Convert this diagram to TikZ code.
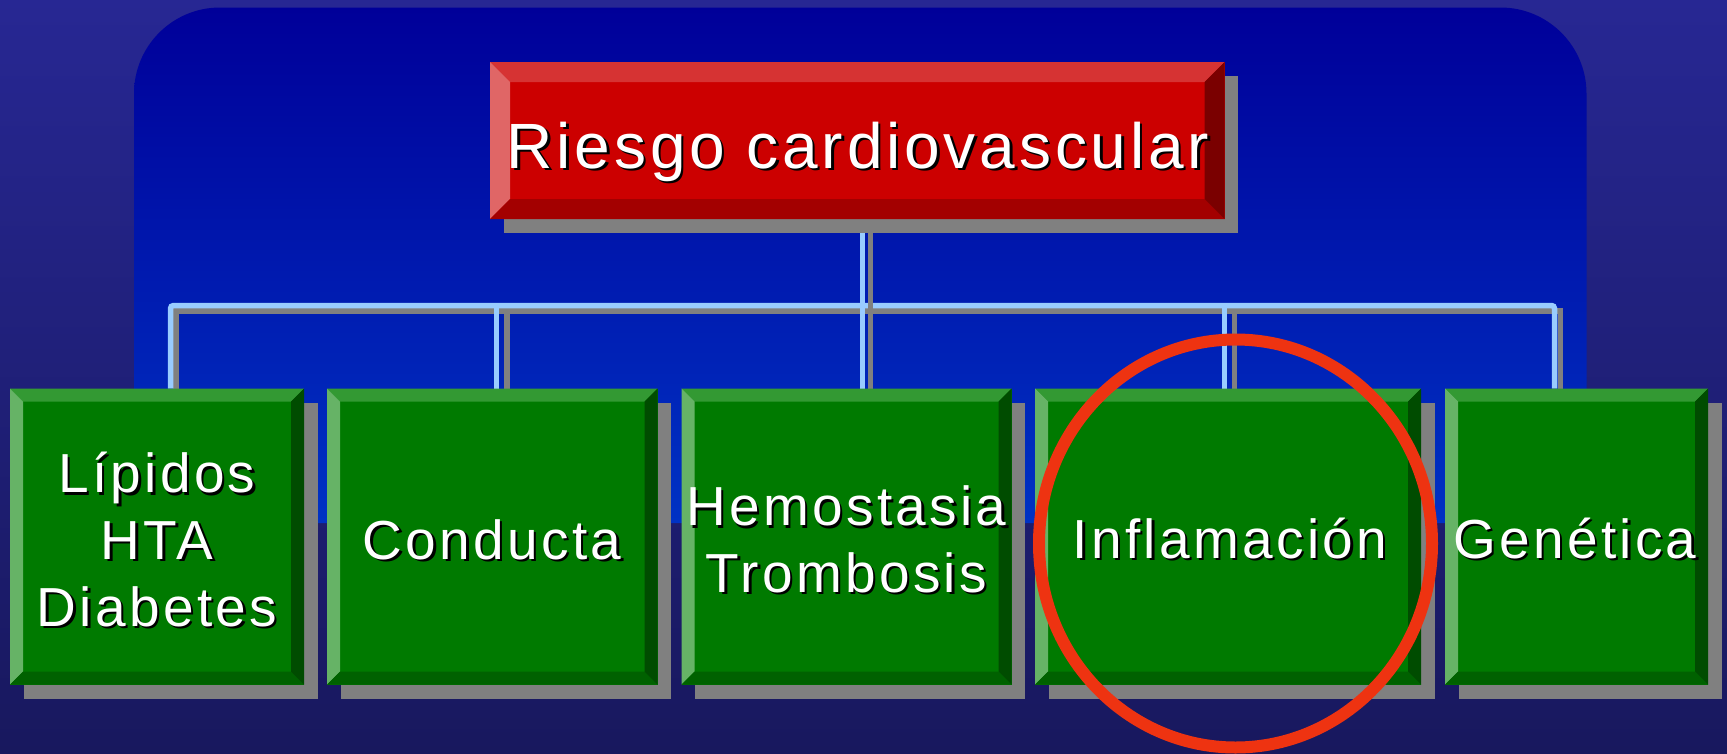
\documentclass[tikz,border=0pt]{standalone}
\usepackage{fontspec}
\setmainfont{Liberation Sans}[LetterSpace=6]
\usetikzlibrary{calc}
\definecolor{bgtop}{RGB}{39,39,147}
\definecolor{bgbot}{RGB}{24,24,94}
\definecolor{paneltop}{RGB}{0,0,153}
\definecolor{panelbot}{RGB}{0,50,196}
\definecolor{lblue}{RGB}{153,204,255}
\definecolor{sgray}{RGB}{128,128,128}
\definecolor{rmain}{RGB}{204,0,0}
\definecolor{rtop}{RGB}{214,51,51}
\definecolor{rleft}{RGB}{224,102,102}
\definecolor{rbot}{RGB}{163,0,0}
\definecolor{rright}{RGB}{122,0,0}
\definecolor{gmain}{RGB}{0,122,0}
\definecolor{gtop}{RGB}{51,153,51}
\definecolor{gleft}{RGB}{102,179,102}
\definecolor{gbot}{RGB}{0,97,0}
\definecolor{gright}{RGB}{0,76,0}
\definecolor{circ}{RGB}{238,51,17}
\tikzset{
  boxshape/.style={rectangle, inner sep=0pt, outer sep=0pt, draw=none},
  conn/.style={draw=lblue, line width=5.5pt},
  connshadow/.style={draw=sgray, line width=5.5pt},
  boxshadow/.style={fill=sgray},
  bigtxt/.style={anchor=base, inner sep=0pt, font=\fontsize{64}{77}\selectfont},
  smalltxt/.style={anchor=base, inner sep=0pt, font=\fontsize{55}{66}\selectfont},
  highlight/.style={draw=circ, line width=12pt}
}
\newcommand\bevelfaces[6]{%
  \fill[#3] (#1.north west) -- (#1.north east) -- ([shift={(-#2,#2)}]#1.north east) -- ([shift={(#2,#2)}]#1.north west) -- cycle;
  \fill[#4] (#1.north west) -- ([shift={(#2,#2)}]#1.north west) -- ([shift={(#2,-#2)}]#1.south west) -- (#1.south west) -- cycle;
  \fill[#5] (#1.south west) -- ([shift={(#2,-#2)}]#1.south west) -- ([shift={(-#2,-#2)}]#1.south east) -- (#1.south east) -- cycle;
  \fill[#6] (#1.south east) -- ([shift={(-#2,-#2)}]#1.south east) -- ([shift={(-#2,#2)}]#1.north east) -- (#1.north east) -- cycle;
}
\newcommand\shadowedline[4]{%
  \node[#3, text=black] (#1s) at ($(#2)+(2.5,2.5)$) {#4};
  \node[#3, text=white] (#1) at (#2) {#4};
}
\begin{document}
\begin{tikzpicture}[x=1pt,y=-1pt]
\useasboundingbox (0,0) rectangle (1727,753);
\clip (0,0) rectangle (1727,753);
% background and panel
\shade[top color=bgtop, bottom color=bgbot] (0,0) rectangle (1727,753);
\shade[top color=paneltop, bottom color=panelbot, rounded corners=86pt] (134,7.5) rectangle (1586.5,523);

% node frames
\node[boxshape, minimum width=734.5pt, minimum height=157pt] (root) at (857.25,140.5) {};
\node[boxshape, minimum width=294pt, minimum height=296pt] (b1) at (157,536.5) {};
\node[boxshape, minimum width=330.5pt, minimum height=296pt] (b2) at (492.25,536.5) {};
\node[boxshape, minimum width=330pt, minimum height=296pt] (b3) at (846.5,536.5) {};
\node[boxshape, minimum width=386pt, minimum height=296pt] (b4) at (1228,536.5) {};
\node[boxshape, minimum width=263pt, minimum height=296pt] (b5) at (1576.5,536.5) {};

% junction points on the bar
\coordinate (j1) at (170.5,305.5);
\coordinate (j2) at (496.5,305.5);
\coordinate (j3) at (862.3,305.5);
\coordinate (j4) at (1224.3,305.5);
\coordinate (j5) at (1554.5,305.5);
\coordinate (s1) at (176,310.8);
\coordinate (s2) at (507,310.8);
\coordinate (s3) at (870.3,310.8);
\coordinate (s4) at (1234.5,310.8);
\coordinate (s5) at (1560.5,310.8);

% connector shadows
\draw[connshadow] (s1 |- b1.north) -- (s1) -- (s5) -- (s5 |- b5.north);
\draw[connshadow] (s2) -- (s2 |- b2.north);
\draw[connshadow] (s4) -- (s4 |- b4.north);
% connectors
\draw[conn, rounded corners=3pt] (j1 |- b1.north) -- (j1) -- (j5) -- (j5 |- b5.north);
\draw[conn] (j2) -- (j2 |- b2.north);
\draw[conn] (j4) -- (j4 |- b4.north);
\draw[conn] (j3 |- root.south) -- (j3 |- b3.north);
\draw[connshadow] (s3 |- root.south) -- (s3 |- b3.north);

% box shadows
\foreach \n in {root,b1,b2,b3,b4,b5}{
  \fill[boxshadow] ($(\n.north west)+(13.5,14)$) rectangle ($(\n.south east)+(13.5,14)$);
}
% box faces
\fill[rmain] (root.north west) rectangle (root.south east);
\bevelfaces{root}{20}{rtop}{rleft}{rbot}{rright}
\foreach \n in {b1,b2,b3,b4,b5}{
  \fill[gmain] (\n.north west) rectangle (\n.south east);
  \bevelfaces{\n}{13}{gtop}{gleft}{gbot}{gright}
}

% texts
\shadowedline{troot}{858,168}{bigtxt}{Riesgo cardiovascular}
\shadowedline{t1a}{157,492.7}{smalltxt}{Lípidos}
\shadowedline{t1b}{157,559.3}{smalltxt}{HTA}
\shadowedline{t1c}{157,626}{smalltxt}{Diabetes}
\shadowedline{t2}{492,559.3}{smalltxt}{Conducta}
\shadowedline{t3a}{846.5,525.7}{smalltxt}{Hemostasia}
\shadowedline{t3b}{846.5,592.3}{smalltxt}{Trombosis}
\shadowedline{t4}{1230,558}{smalltxt}{Inflamación}
\shadowedline{t5}{1575,558}{smalltxt}{Genética}

% highlight ellipse
\draw[highlight] (1235.5,543.5) ellipse[x radius=196.5, y radius=204];
\end{tikzpicture}
\end{document}
